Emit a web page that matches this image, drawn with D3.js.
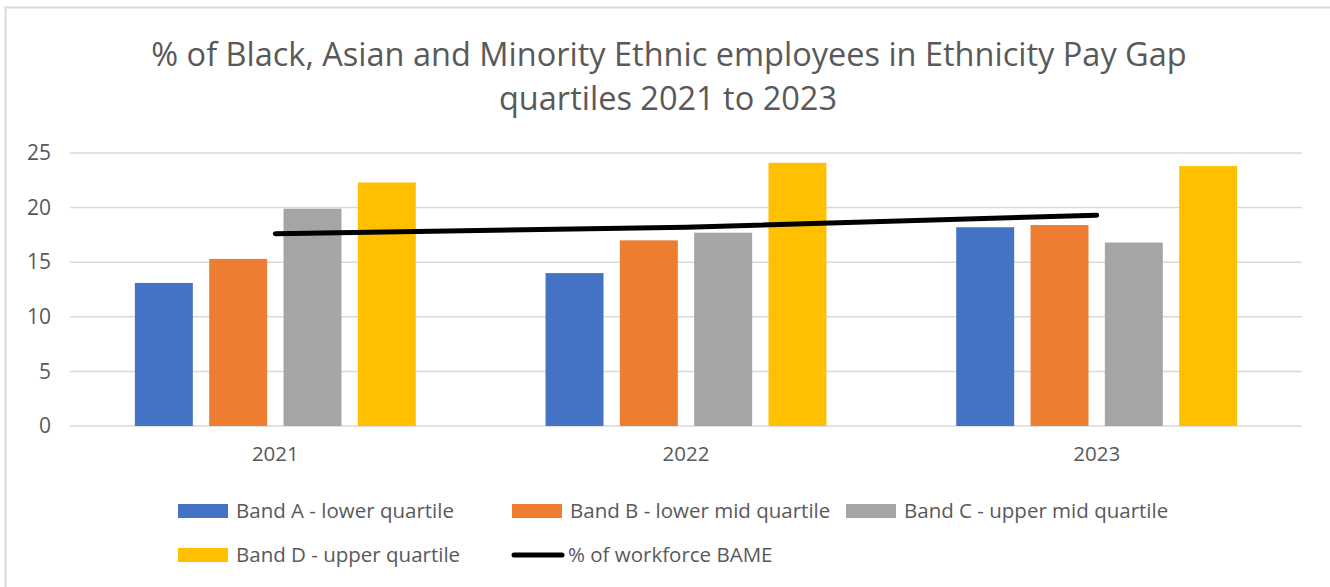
<!DOCTYPE html>
<html>
<head>
<meta charset="utf-8">
<script src="https://cdnjs.cloudflare.com/ajax/libs/d3/7.8.5/d3.min.js"></script>
<style>
  body { margin: 0; background: #fff; }
  text { font-family: "Open Sans", sans-serif; fill: #595959; }
</style>
</head>
<body>
<div id="chart"></div>
<script>
// data
var years = ["2021", "2022", "2023"];
var bandA = [13.1, 14.0, 18.2];
var bandB = [15.3, 17.0, 18.4];
var bandC = [19.9, 17.7, 16.8];
var bandD = [22.3, 24.1, 23.8];
var workforce = [17.6, 18.2, 19.3];
var seriesNames = ["Band A - lower quartile", "Band B - lower mid quartile",
                   "Band C - upper mid quartile", "Band D - upper quartile"];
var lineName = "% of workforce BAME";
var yTicks = [0, 5, 10, 15, 20, 25];

var width = 1330,
    height = 587,
    colors = ["#4472C4", "#ED7D31", "#A5A5A5", "#FFC000"];

var series = [bandA, bandB, bandC, bandD];

var svg = d3.select("#chart").append("svg")
    .attr("width", width)
    .attr("height", height);

// outer chart border (only left/top visible in the shot)
svg.append("rect")
    .attr("x", 5.5).attr("y", 7.5)
    .attr("width", 1400).attr("height", 700)
    .attr("fill", "none")
    .attr("stroke", "#D9D9D9")
    .attr("stroke-width", 2);

// title
var title = svg.append("text")
    .attr("text-anchor", "middle")
    .style("font-size", "32.5px");
title.append("tspan").attr("x", 669).attr("y", 66)
    .text("% of Black, Asian and Minority Ethnic employees in Ethnicity Pay Gap");
title.append("tspan").attr("x", 668).attr("y", 110)
    .text("quartiles 2021 to 2023");

var x = d3.scaleBand()
    .domain(years)
    .range([70, 1302])
    .padding(0);

var xInner = d3.scaleBand()
    .domain(d3.range(series.length))
    .range([0, x.bandwidth()])
    .paddingInner(0.22)
    .paddingOuter(0.873);

var y = d3.scaleLinear()
    .domain([0, 25])
    .range([426, 153]);

// gridlines
svg.append("g")
    .selectAll("line")
    .data(yTicks)
    .enter().append("line")
    .attr("x1", 70).attr("x2", 1302)
    .attr("y1", function(d) { return y(d); })
    .attr("y2", function(d) { return y(d); })
    .attr("stroke", "#D9D9D9")
    .attr("stroke-width", 1.5);

// y axis labels
var yAxis = svg.append("g")
    .attr("transform", "translate(51,0)")
    .call(d3.axisLeft(y).tickValues(yTicks).tickSize(0).tickPadding(0));
yAxis.select(".domain").remove();
yAxis.selectAll("text")
    .style("font-size", "21px")
    .style("font-family", "'Open Sans', sans-serif")
    .attr("fill", "#595959");

// x axis labels
var xAxis = svg.append("g")
    .attr("transform", "translate(0,446)")
    .call(d3.axisBottom(x).tickSize(0).tickPadding(0));
xAxis.select(".domain").remove();
xAxis.selectAll("text")
    .style("font-size", "20.5px")
    .style("font-family", "'Open Sans', sans-serif")
    .attr("fill", "#595959");

// bars
series.forEach(function(vals, si) {
    svg.append("g")
        .selectAll("rect")
        .data(vals)
        .enter().append("rect")
        .attr("x", function(d, i) { return x(years[i]) + xInner(si); })
        .attr("width", xInner.bandwidth())
        .attr("y", function(d) { return y(d); })
        .attr("height", function(d) { return y(0) - y(d); })
        .attr("fill", colors[si]);
});

// workforce line
var line = d3.line()
    .x(function(d, i) { return x(years[i]) + x.bandwidth() / 2; })
    .y(function(d) { return y(d); })
    .curve(d3.curveMonotoneX);

svg.append("path")
    .datum(workforce)
    .attr("d", line)
    .attr("fill", "none")
    .attr("stroke", "#000")
    .attr("stroke-width", 5)
    .attr("stroke-linecap", "round");

// legend
var legendItems = seriesNames.map(function(n, i) { return {name: n, color: colors[i], type: "bar"}; });
legendItems.push({name: lineName, color: "#000", type: "line"});

var lg = svg.append("g").selectAll("g")
    .data(legendItems)
    .enter().append("g")
    .attr("transform", function(d, i) {
        return "translate(" + (178 + (i % 3) * 334) + "," + (511 + Math.floor(i / 3) * 44) + ")";
    });

lg.filter(function(d) { return d.type == "bar"; })
    .append("rect")
    .attr("x", 0).attr("y", -7)
    .attr("width", 50).attr("height", 14)
    .attr("fill", function(d) { return d.color; });

lg.filter(function(d) { return d.type == "line"; })
    .append("line")
    .attr("x1", 2).attr("x2", 50)
    .attr("y1", 0).attr("y2", 0)
    .attr("stroke", "#000")
    .attr("stroke-width", 5)
    .attr("stroke-linecap", "round");

lg.append("text")
    .attr("x", function(d) { return d.type == "line" ? 56 : 58; })
    .attr("y", 0)
    .attr("dy", "0.35em")
    .style("font-size", "20.5px")
    .text(function(d) { return d.name; });
</script>
</body>
</html>
